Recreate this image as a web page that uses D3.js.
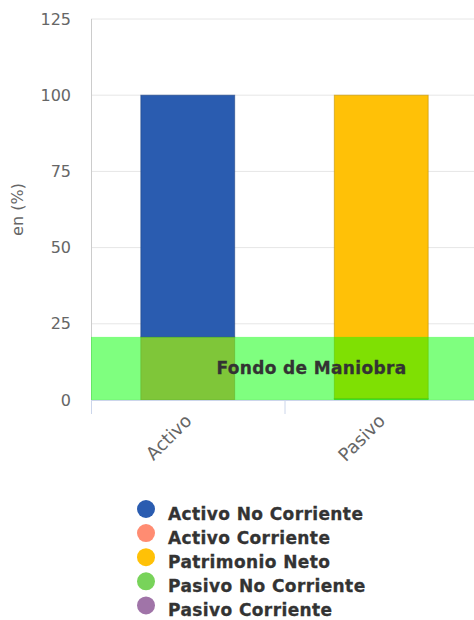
<!DOCTYPE html>
<html>
<head>
<meta charset="utf-8">
<script src="https://cdn.jsdelivr.net/npm/d3@7"></script>
<style>
  body { margin: 0; background: #fff; }
  svg { display: block; }
</style>
</head>
<body>
<div id="chart"></div>
<script>
// categories and series (values in %)
var categories = ['Activo', 'Pasivo'];
var seriesNames = ['Activo No Corriente', 'Activo Corriente', 'Patrimonio Neto', 'Pasivo No Corriente', 'Pasivo Corriente'];
var seriesColors = ['#2a5cb0', '#ff8c72', '#ffc107', '#78d35a', '#a074a8'];
var activoValues = [79.3, 20.7, 0, 0, 0];
var pasivoValues = [0, 0, 99.5, 0.5, 0];
var yTicks = [0, 25, 50, 75, 100, 125];
var fondoManiobra = 20.7;

var width = 474, height = 620;
// plot area runs a little past the right edge, as in the original
var margin = { top: 19, right: -4, bottom: 220, left: 91 };
var plotW = width - margin.left - margin.right;
var plotH = height - margin.top - margin.bottom;

var svg = d3.select('#chart').append('svg')
    .attr('width', width)
    .attr('height', height);

var g = svg.append('g')
    .attr('transform', 'translate(' + margin.left + ',' + margin.top + ')');

var x = d3.scaleBand().domain(categories).range([0, plotW]).paddingInner(0.515).paddingOuter(0.2575);
var y = d3.scaleLinear().domain([0, 125]).range([plotH, 0]);

// gridlines
g.selectAll('.grid').data(yTicks).enter().append('line')
    .attr('x1', 0).attr('x2', plotW)
    .attr('y1', function(d) { return y(d); })
    .attr('y2', function(d) { return y(d); })
    .attr('stroke', '#e6e6e6');

// y axis line
g.append('line').attr('x1', 0.5).attr('x2', 0.5).attr('y1', 0).attr('y2', plotH)
    .attr('stroke', '#ccc');

// y tick labels
g.selectAll('.ytick').data(yTicks).enter().append('text')
    .attr('x', -20)
    .attr('y', function(d) { return y(d); })
    .attr('dy', '0.35em')
    .attr('text-anchor', 'end')
    .attr('font-family', 'DejaVu Sans, sans-serif')
    .attr('font-size', 16)
    .attr('fill', '#666')
    .text(function(d) { return d; });

svg.append('text')
    .attr('transform', 'translate(23,' + (margin.top + plotH / 2) + ') rotate(-90)')
    .attr('text-anchor', 'middle')
    .attr('font-family', 'DejaVu Sans, sans-serif')
    .attr('font-size', 16)
    .attr('fill', '#666')
    .text('en (%)');

// stacked bars: first series on top, so stack from the last one upward
var rows = [activoValues, pasivoValues];
rows.forEach(function(vals, ci) {
    var base = 0;
    for (var s = seriesNames.length - 1; s >= 0; s--) {
        var v = vals[s];
        if (v <= 0) continue;
        g.append('rect')
            .attr('x', x(categories[ci]))
            .attr('width', x.bandwidth())
            .attr('y', y(base + v))
            .attr('height', y(base) - y(base + v))
            .attr('fill', seriesColors[s])
            .attr('stroke', d3.color(seriesColors[s]).darker(0.8))
            .attr('stroke-opacity', 0.6)
            .attr('stroke-width', 1);
        base += v;
    }
});

// x axis ticks
var xTicks = [0, plotW / 2, plotW];
g.selectAll('.xtick').data(xTicks).enter().append('line')
    .attr('x1', function(d) { return d + 0.5; })
    .attr('x2', function(d) { return d + 0.5; })
    .attr('y1', plotH).attr('y2', plotH + 14)
    .attr('stroke', '#ccd6eb');
g.append('line').attr('x1', 0).attr('x2', plotW).attr('y1', plotH + 0.5).attr('y2', plotH + 0.5)
    .attr('stroke', '#ccd6eb');

// fondo de maniobra band
g.append('rect')
    .attr('x', 0).attr('width', plotW)
    .attr('y', y(fondoManiobra))
    .attr('height', y(0) - y(fondoManiobra))
    .attr('fill', 'rgba(0,255,0,0.5)');

g.append('text')
    .attr('x', plotW / 2 + 27)
    .attr('y', (y(fondoManiobra) + y(0)) / 2)
    .attr('dy', '0.35em')
    .attr('text-anchor', 'middle')
    .attr('font-family', 'DejaVu Sans, sans-serif')
    .attr('font-weight', 'bold')
    .attr('font-size', 17)
    .attr('letter-spacing', 0.35)
    .attr('fill', '#333')
    .attr('stroke', '#333')
    .attr('stroke-width', 0.3)
    .text('Fondo de Maniobra');

// x labels
g.selectAll('.xlab').data(categories).enter().append('text')
    .attr('transform', function(d) {
        return 'translate(' + (x(d) + x.bandwidth() / 2 + 5) + ',' + (plotH + 22) + ') rotate(-45)';
    })
    .attr('text-anchor', 'end')
    .attr('font-family', 'DejaVu Sans, sans-serif')
    .attr('font-size', 18)
    .attr('fill', '#666')
    .text(function(d) { return d; });

// legend
var legend = svg.append('g').attr('transform', 'translate(146,509)');
var item = legend.selectAll('.item').data(seriesNames).enter().append('g')
    .attr('transform', function(d, i) { return 'translate(0,' + (i * 24.1) + ')'; });
item.append('circle').attr('r', 9).attr('fill', function(d, i) { return seriesColors[i]; });
item.append('text')
    .attr('x', 22)
    .attr('y', 10.5)
    .attr('font-family', 'DejaVu Sans, sans-serif')
    .attr('font-weight', 'bold')
    .attr('font-size', 17)
    .attr('letter-spacing', 0.4)
    .attr('fill', '#333')
    .attr('stroke', '#333')
    .attr('stroke-width', 0.3)
    .text(function(d) { return d; });
</script>
</body>
</html>
